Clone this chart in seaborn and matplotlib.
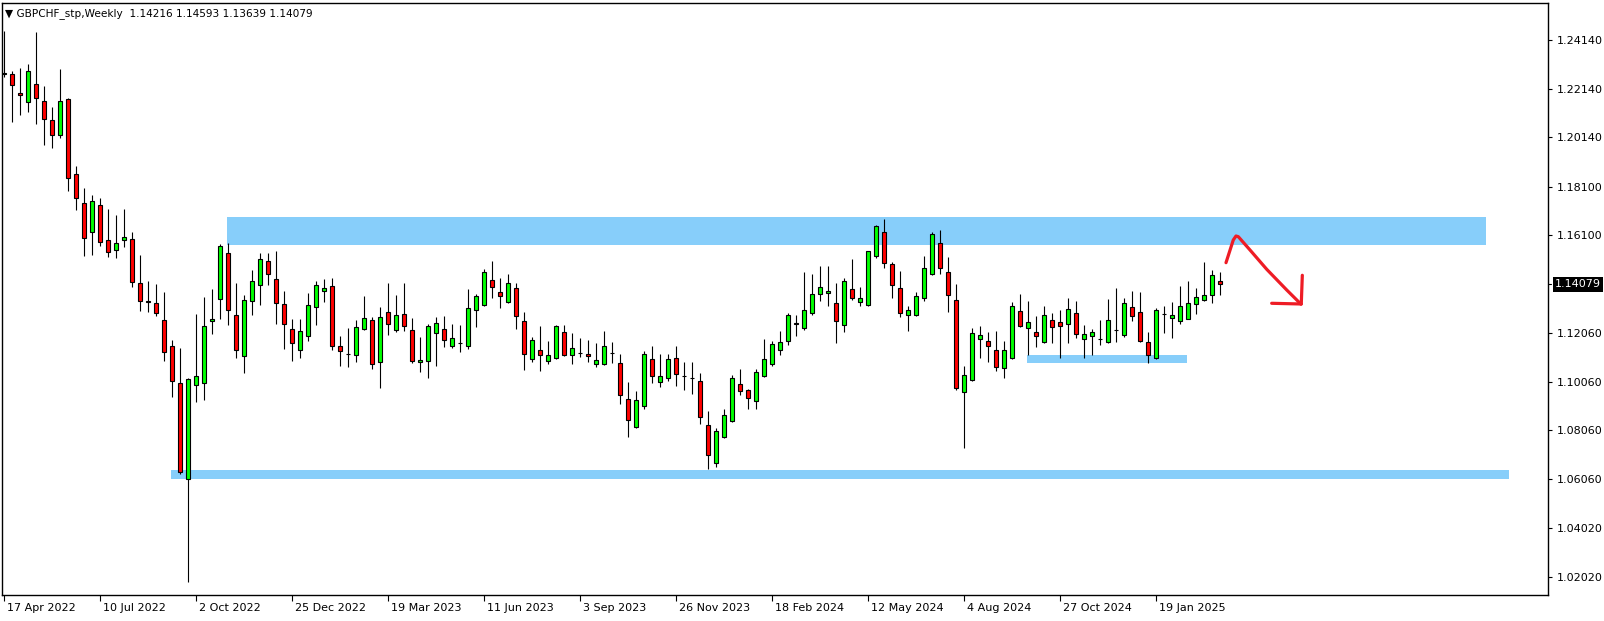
import numpy as np
import pandas as pd
import seaborn as sns
import matplotlib.pyplot as plt
from matplotlib.transforms import ScaledTranslation, blended_transform_factory

# weekly GBPCHF candles, first bar = week of 17 Apr 2022
first_week = '2022-04-17'
opens = [1.2274, 1.2274, 1.2196, 1.2159, 1.2233, 1.2166, 1.2084, 1.2022, 1.2171, 1.1862,
         1.1742, 1.1623, 1.1733, 1.1589, 1.1548, 1.1589, 1.1593, 1.1415, 1.1337, 1.1330,
         1.1259, 1.1152, 1.1000, 1.0603, 1.0991, 1.0999, 1.1255, 1.1348, 1.1536, 1.1280,
         1.1111, 1.1338, 1.1404, 1.1503, 1.1428, 1.1325, 1.1222, 1.1136, 1.1193, 1.1313,
         1.1379, 1.1400, 1.1152, 1.1119, 1.1115, 1.1222, 1.1259, 1.1086, 1.1292, 1.1218,
         1.1284, 1.1218, 1.1086, 1.1090, 1.1206, 1.1222, 1.1155, 1.1166, 1.1155, 1.1303,
         1.1321, 1.1424, 1.1375, 1.1334, 1.1391, 1.1255, 1.1099, 1.1138, 1.1090, 1.1103,
         1.1210, 1.1115, 1.1126, 1.1119, 1.1078, 1.1078, 1.1126, 1.1084, 1.0933, 1.0818,
         1.0905, 1.1099, 1.1004, 1.1020, 1.1103, 1.1030, 1.1023, 1.1008, 1.0826, 1.0669,
         1.0777, 1.0843, 1.0995, 1.0971, 1.0925, 1.1028, 1.1078, 1.1138, 1.1173, 1.1247,
         1.1226, 1.1288, 1.1367, 1.1371, 1.1329, 1.1239, 1.1387, 1.1334, 1.1321, 1.1523,
         1.1622, 1.1490, 1.1391, 1.1280, 1.1280, 1.1350, 1.1449, 1.1577, 1.1457, 1.1342,
         1.0962, 1.1012, 1.1181, 1.1173, 1.1136, 1.1061, 1.1103, 1.1296, 1.1226, 1.1210,
         1.1169, 1.1259, 1.1251, 1.1243, 1.1288, 1.1181, 1.1193, 1.1182, 1.1169, 1.1219,
         1.1197, 1.1313, 1.1292, 1.1169, 1.1103, 1.1287, 1.1269, 1.1255, 1.1265, 1.1325,
         1.1342, 1.1362, 1.14216]
highs = [1.2454, 1.2287, 1.2301, 1.2317, 1.2448, 1.2225, 1.2139, 1.2296, 1.2177, 1.1895,
         1.1806, 1.1776, 1.1764, 1.1719, 1.1694, 1.1719, 1.1623, 1.1529, 1.1421, 1.1410,
         1.1376, 1.1178, 1.1146, 1.1021, 1.1286, 1.1355, 1.1388, 1.1574, 1.1578, 1.1413,
         1.1362, 1.1466, 1.1537, 1.1537, 1.1545, 1.1380, 1.1265, 1.1265, 1.1372, 1.1422,
         1.1428, 1.1434, 1.1195, 1.1228, 1.1261, 1.1360, 1.1273, 1.1313, 1.1413, 1.1364,
         1.1413, 1.1269, 1.1189, 1.1243, 1.1273, 1.1277, 1.1243, 1.1239, 1.1387, 1.1367,
         1.1470, 1.1503, 1.1433, 1.1449, 1.1412, 1.1292, 1.1189, 1.1235, 1.1173, 1.1239,
         1.1239, 1.1206, 1.1185, 1.1177, 1.1164, 1.1214, 1.1169, 1.1119, 1.1004, 1.0967,
         1.1131, 1.1152, 1.1119, 1.1119, 1.1152, 1.1086, 1.1086, 1.1041, 1.0884, 1.0814,
         1.0892, 1.1032, 1.1057, 1.0975, 1.1057, 1.1181, 1.1173, 1.1214, 1.1288, 1.1280,
         1.1459, 1.1450, 1.1483, 1.1483, 1.1412, 1.1433, 1.1511, 1.1395, 1.1546, 1.1651,
         1.1676, 1.1499, 1.1463, 1.1317, 1.1375, 1.1523, 1.1622, 1.1631, 1.1519, 1.1408,
         1.1070, 1.1226, 1.1235, 1.1210, 1.1214, 1.1173, 1.1334, 1.1367, 1.1338, 1.1277,
         1.1317, 1.1288, 1.1301, 1.1350, 1.1338, 1.1239, 1.1222, 1.1259, 1.1346, 1.1391,
         1.1350, 1.1379, 1.1375, 1.1210, 1.1309, 1.1317, 1.1334, 1.1400, 1.1420, 1.1391,
         1.1499, 1.1466, 1.14593]
lows = [1.2265, 1.2078, 1.2108, 1.2119, 1.2071, 1.1984, 1.1972, 1.2011, 1.1794, 1.1716,
        1.1526, 1.1530, 1.1567, 1.1521, 1.1518, 1.1563, 1.1398, 1.1299, 1.1294, 1.1278,
        1.1093, 1.0941, 1.0627, 1.0178, 1.0923, 1.0931, 1.1204, 1.1266, 1.1241, 1.1105,
        1.1043, 1.1282, 1.1324, 1.1406, 1.1245, 1.1142, 1.1093, 1.1105, 1.1175, 1.1241,
        1.1335, 1.1138, 1.1072, 1.1068, 1.1089, 1.1218, 1.1060, 1.0981, 1.1200, 1.1210,
        1.1214, 1.1083, 1.1047, 1.1023, 1.1072, 1.1150, 1.1146, 1.1130, 1.1142, 1.1233,
        1.1318, 1.1353, 1.1311, 1.1332, 1.1225, 1.1056, 1.1086, 1.1051, 1.1078, 1.1100,
        1.1111, 1.1080, 1.1107, 1.1086, 1.1066, 1.1075, 1.1084, 1.0913, 1.0777, 1.0815,
        1.0892, 1.1000, 1.0983, 1.1008, 1.0987, 1.0971, 1.0954, 1.0830, 1.0645, 1.0653,
        1.0773, 1.0840, 1.0950, 1.0892, 1.0892, 1.1024, 1.1070, 1.1115, 1.1156, 1.1193,
        1.1218, 1.1280, 1.1338, 1.1317, 1.1164, 1.1210, 1.1342, 1.1317, 1.1318, 1.1515,
        1.1474, 1.1350, 1.1273, 1.1214, 1.1277, 1.1338, 1.1445, 1.1449, 1.1292, 1.0971,
        1.0734, 1.1008, 1.1103, 1.1086, 1.1049, 1.1020, 1.1099, 1.1230, 1.1115, 1.1148,
        1.1167, 1.1164, 1.1103, 1.1164, 1.1185, 1.1103, 1.1115, 1.1156, 1.1167, 1.1169,
        1.1189, 1.1255, 1.1171, 1.1084, 1.1100, 1.1206, 1.1185, 1.1243, 1.1263, 1.1284,
        1.1340, 1.1331, 1.13639]
closes = [1.2280, 1.2228, 1.2187, 1.2286, 1.2176, 1.2088, 1.2022, 1.2162, 1.1846, 1.1763,
          1.1598, 1.1750, 1.1582, 1.1541, 1.1580, 1.1605, 1.1418, 1.1341, 1.1334, 1.1289,
          1.1128, 1.1007, 1.0634, 1.1016, 1.1028, 1.1235, 1.1265, 1.1566, 1.1301, 1.1136,
          1.1342, 1.1420, 1.1511, 1.1449, 1.1329, 1.1243, 1.1164, 1.1214, 1.1321, 1.1404,
          1.1391, 1.1155, 1.1131, 1.1120, 1.1230, 1.1269, 1.1078, 1.1273, 1.1243, 1.1280,
          1.1235, 1.1090, 1.1094, 1.1235, 1.1247, 1.1177, 1.1185, 1.1167, 1.1309, 1.1358,
          1.1457, 1.1398, 1.1358, 1.1412, 1.1278, 1.1119, 1.1177, 1.1115, 1.1115, 1.1235,
          1.1115, 1.1144, 1.1125, 1.1111, 1.1094, 1.1152, 1.1125, 1.0950, 1.0847, 1.0929,
          1.1119, 1.1028, 1.1028, 1.1099, 1.1037, 1.1029, 1.1022, 1.0859, 1.0702, 1.0801,
          1.0867, 1.1020, 1.0967, 1.0938, 1.1045, 1.1099, 1.1160, 1.1169, 1.1280, 1.1246,
          1.1301, 1.1367, 1.1395, 1.1379, 1.1255, 1.1420, 1.1350, 1.1350, 1.1544, 1.1647,
          1.1494, 1.1404, 1.1288, 1.1301, 1.1358, 1.1474, 1.1614, 1.1474, 1.1362, 1.0979,
          1.1032, 1.1206, 1.1197, 1.1152, 1.1066, 1.1136, 1.1317, 1.1235, 1.1251, 1.1193,
          1.1280, 1.1230, 1.1235, 1.1305, 1.1202, 1.1202, 1.1210, 1.1183, 1.1259, 1.1220,
          1.1329, 1.1277, 1.1173, 1.1115, 1.1301, 1.1286, 1.1280, 1.1317, 1.1329, 1.1354,
          1.1362, 1.1445, 1.14079]

# drawn zones (bar index from/to, price low/high)
zone_start = [27.9, 20.9, 127.9]
zone_end = [185.25, 188.1, 147.9]
zone_low = [1.15712, 1.06047, 1.10845]
zone_high = [1.16855, 1.06419, 1.11162]

# hand drawn red arrow (bar index, price)
arrow_x = [152.75, 153.66, 154.0, 154.29, 155.75, 157.84, 160.34, 162.1]
arrow_y = [1.14970, 1.15906, 1.16071, 1.16042, 1.15494, 1.14697, 1.13844, 1.13266]
head_v_x = [162.29, 162.16]
head_v_y = [1.14450, 1.13266]
head_h_x = [158.46, 162.16]
head_h_y = [1.13295, 1.13266]

price_ticks = [1.24140, 1.22140, 1.20140, 1.18100, 1.16100, 1.12060,
               1.10060, 1.08060, 1.06060, 1.04020, 1.02020]
last_price = 1.14079
title = '\u25bc GBPCHF_stp,Weekly  1.14216 1.14593 1.13639 1.14079'

df = pd.DataFrame({'open': opens, 'high': highs, 'low': lows, 'close': closes})
df['date'] = pd.date_range(first_week, periods=len(df), freq='W-SUN')
df['bar'] = np.arange(len(df))
df['up'] = df['close'] >= df['open']

sns.set_style('white')
plt.rcParams['font.family'] = ['DejaVu Sans']

fig = plt.figure(figsize=(16.04, 6.21), dpi=100)
ax = fig.add_axes([2 / 1604, 1 - 595 / 621, 1546 / 1604, 592 / 621])

for x0, x1, lo, hi in zip(zone_start, zone_end, zone_low, zone_high):
    ax.fill_between([x0, x1], lo, hi, color='#87cefa', lw=0, zorder=1)

ax.vlines(df['bar'], df['low'], df['high'], color='black', lw=0.8, zorder=2)
body = (df['close'] - df['open']).abs().clip(lower=0.00006)
ax.bar(df['bar'], body, bottom=df[['open', 'close']].min(axis=1), width=0.5,
       color=np.where(df['up'], '#00ff00', '#ff0000'), edgecolor='black',
       linewidth=0.8, zorder=3)

for xs, ys in [(arrow_x, arrow_y), (head_v_x, head_v_y), (head_h_x, head_h_y)]:
    sns.lineplot(x=xs, y=ys, sort=False, estimator=None, color='#ee1c25',
                 lw=2.3, ax=ax, zorder=4)

ax.set_xlim(-0.25, 193)
ax.set_ylim(1.01262, 1.25682)

# price axis on the right
ax.yaxis.tick_right()
ax.set_yticks(price_ticks)
ax.set_yticklabels([f'{v:.5f}' for v in price_ticks])
ax.tick_params(axis='y', right=True, length=3, width=0.8, pad=3,
               labelsize=8, colors='black')
trans = blended_transform_factory(ax.transAxes, ax.transData)
ax.plot([1, 1.002], [last_price, last_price], color='black', lw=0.8,
        transform=trans, clip_on=False)
ax.text(1.0045, last_price, f'{last_price:.5f}', transform=trans, ha='left',
        va='center', fontsize=8, color='white',
        bbox=dict(facecolor='black', edgecolor='none', pad=1.6))

# date axis
tick_rows = df.iloc[::12]
ax.set_xticks(tick_rows['bar'])
ax.set_xticklabels([f'{d.day} {d:%b %Y}' for d in tick_rows['date']])
ax.tick_params(axis='x', bottom=True, length=4, width=0.8, pad=2,
               labelsize=8, colors='black')
shift = ScaledTranslation(3 / 100, 0, fig.dpi_scale_trans)
for lab in ax.get_xticklabels():
    lab.set_horizontalalignment('left')
    lab.set_transform(lab.get_transform() + shift)

for s in ax.spines.values():
    s.set_visible(True)
    s.set_color('black')
    s.set_linewidth(1)

ax.text(0.002, 0.992, title, transform=ax.transAxes, ha='left', va='top',
        fontsize=7.6, color='black')

ax.set_xlabel('')
ax.set_ylabel('')
fig.savefig('out.png', dpi=100, facecolor='white')
